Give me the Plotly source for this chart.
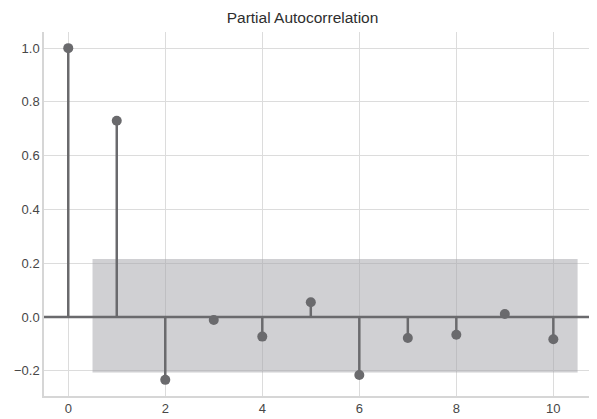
import plotly.graph_objects as go

lags = [0, 1, 2, 3, 4, 5, 6, 7, 8, 9, 10]
pacf = [1.0, 0.73, -0.234, -0.011, -0.073, 0.055, -0.216, -0.078, -0.066, 0.011, -0.083]
conf_upper = 0.216
conf_lower = -0.207
band_lags = [0.5, 10.5]
yticks = [-0.2, 0.0, 0.2, 0.4, 0.6, 0.8, 1.0]
xticks = [0, 2, 4, 6, 8, 10]

stem_color = "#6a6a6d"
fig = go.Figure()

# confidence band
fig.add_trace(go.Scatter(
    x=[band_lags[0], band_lags[1], band_lags[1], band_lags[0], band_lags[0]],
    y=[conf_upper, conf_upper, conf_lower, conf_lower, conf_upper],
    fill="toself", fillcolor="rgba(165,165,170,0.52)", line=dict(width=0),
    mode="lines", hoverinfo="skip", showlegend=False))

# stems
sx, sy = [], []
for l, v in zip(lags, pacf):
    sx += [l, l, None]
    sy += [0, v, None]
fig.add_trace(go.Scatter(x=sx, y=sy, mode="lines",
                         line=dict(color=stem_color, width=2.5), showlegend=False))

# markers
fig.add_trace(go.Scatter(x=lags, y=pacf, mode="markers",
                         marker=dict(color=stem_color, size=10), showlegend=False))

# zero line
fig.add_hline(y=0, line=dict(color=stem_color, width=2.5))

# page body has an 8px default margin, so the figure is 8px smaller
fig.update_layout(
    width=589, height=411,
    margin=dict(l=36, r=0, t=24, b=23),
    paper_bgcolor="white", plot_bgcolor="white",
    title=dict(text="Partial Autocorrelation", x=0.5, xanchor="center",
               y=0.99, yanchor="top",
               font=dict(family="Liberation Sans, Arial", size=15.5, color="#2e2e2e")),
    font=dict(family="Liberation Sans, Arial", size=13, color="#474747"),
    xaxis=dict(range=[-0.5, 10.9], tickvals=xticks, ticktext=[str(t) for t in xticks],
               showgrid=True, gridcolor="#dcdcdc", gridwidth=1.3, zeroline=False,
               showline=True, linecolor="#d6d6d6", linewidth=1.5, ticks="",
               automargin=False),
    yaxis=dict(range=[-0.294, 1.06], tickvals=yticks, ticktext=[f"{t:.1f}".replace("-", "−") for t in yticks],
               showgrid=True, gridcolor="#dcdcdc", gridwidth=1.3, zeroline=False,
               showline=True, linecolor="#d6d6d6", linewidth=1.5, ticks="",
               automargin=False),
)
fig.write_html("out.html")
